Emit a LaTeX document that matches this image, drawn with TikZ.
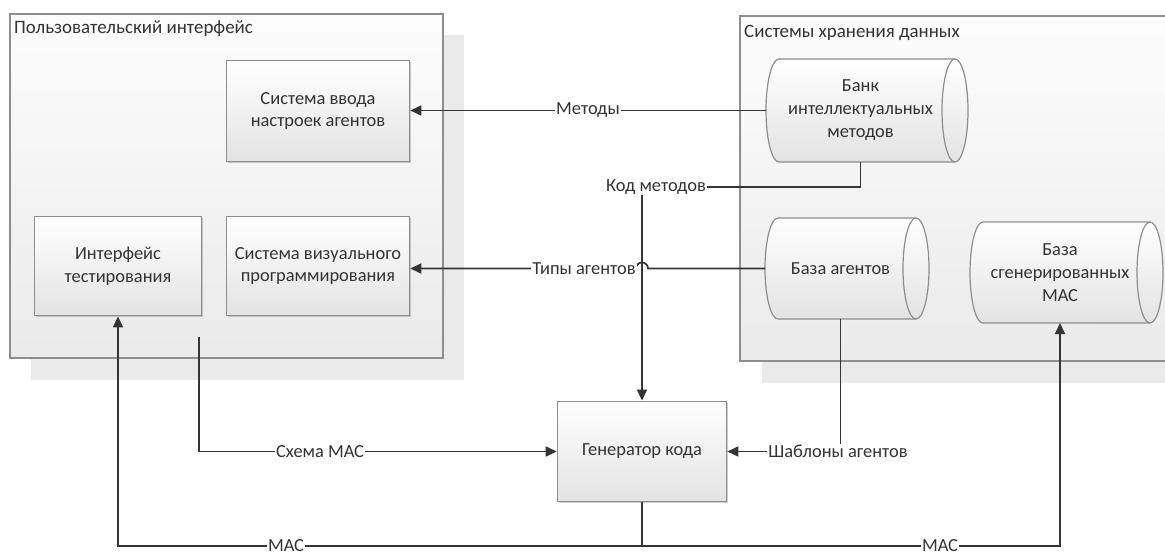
\documentclass[tikz,border=0pt]{standalone}
\usepackage{fontspec}
\setmainfont{Carlito}
\usetikzlibrary{arrows.meta,shadows,calc}
\definecolor{ln}{HTML}{353535}
\definecolor{tx}{HTML}{333333}
\definecolor{bd}{HTML}{8E8E8E}
\definecolor{shd}{HTML}{EAEAEA}
\pgfdeclarelayer{back}
\pgfdeclarelayer{mid}
\pgfsetlayers{back,mid,main}
\newcommand\cylinderAt[5]{%
  \path[cylshape] ({#1+13},#2) -- (#3,#2) arc[start angle=90,end angle=-90,x radius=13bp,y radius=#5bp]
     -- ({#1+13},#4) arc[start angle=270,end angle=90,x radius=13bp,y radius=#5bp] -- cycle;
  \draw[draw=bd,line width=1.2bp] (#3,#2) arc[start angle=90,end angle=270,x radius=13bp,y radius=#5bp];}
\tikzset{
  txtfont/.style={font=\fontsize{18.5}{23}\selectfont},
  box/.style={rectangle, draw=bd, line width=1.2bp, top color=white, bottom color=black!11,
    text=tx, align=center, txtfont, inner sep=0,
    drop shadow={shadow xshift=1.5bp, shadow yshift=-1.5bp, fill=black!45, opacity=0.45}},
  cyltext/.style={rectangle, inner sep=0, text=tx, align=center, txtfont},
  cylshape/.style={draw=bd, line width=1.2bp, top color=white, bottom color=black!11},
  conn/.style={draw=ln, line width=1.7bp},
  arr/.style={conn, -{Triangle[length=11bp,width=10bp]}},
  lbl/.style={fill=white, inner sep=1bp, text=tx, font=\fontsize{18.5}{20}\selectfont},
  cont/.style={draw=bd, line width=1.2bp, top color=black!1, bottom color=black!8},
  contshadow/.style={fill=shd, draw=none},
  ctitle/.style={anchor=west, text=tx, inner sep=0, font=\fontsize{19}{23}\selectfont}
}
\begin{document}
\begin{tikzpicture}[x=1bp,y=-1bp]
\useasboundingbox (0,0) rectangle (1165,556);
\clip (0,0) rectangle (1165,556);
% containers
\begin{pgfonlayer}{back}
  \fill[white] (0,0) rectangle (1165,556);
  \path[contshadow] (31,35) rectangle (464,380);
  \path[cont] (10,14) rectangle (443,358);
  \path[contshadow] (762,38) rectangle (1180,383);
  \path[cont] (740,16) rectangle (1180,361);
\end{pgfonlayer}
\node[ctitle] (t1) at (14,29) {Пользовательский интерфейс};
\node[ctitle] (t2) at (744,33) {Системы хранения данных};
% boxes
\node[box, minimum width=184, minimum height=102] (vvod) at (318,111) {Система ввода\\настроек агентов};
\node[box, minimum width=168, minimum height=100] (ti) at (118,266) {Интерфейс\\тестирования};
\node[box, minimum width=184, minimum height=100] (vis) at (318,266) {Система визуального\\программирования};
\node[box, minimum width=170, minimum height=101] (gen) at (642,451.5) {Генератор кода};
% cylinders
\begin{pgfonlayer}{mid}
  \cylinderAt{766}{59}{955}{162}{51.5}
  \cylinderAt{765}{218}{916}{319}{50.5}
  \cylinderAt{970}{222}{1150}{323}{50.5}
\end{pgfonlayer}
\node[cyltext, minimum width=189, minimum height=103] (bank) at (860.5,110.5) {Банк\\интеллектуальных\\методов};
\node[cyltext, minimum width=151, minimum height=101] (agents) at (840.5,268.5) {База агентов};
\node[cyltext, minimum width=180, minimum height=101] (gmas) at (1060,272.5) {База\\сгенерированных\\МАС};
% connectors
\draw[arr] (bank.west) -- (bank.west -| vvod.east);
\node[lbl] (lm) at (588,110.5) {Методы};
\coordinate (kod) at (642,187);
\draw[conn] (bank.south) |- (kod);
\draw[arr] (kod) -- (gen.north);
\node[lbl] (lk) at (656,187) {Код методов};
\coordinate (hopR) at (648,268.5);
\draw[arr] (agents.west) -- (hopR) arc[start angle=0,end angle=180,radius=6bp] -- (agents.west -| vis.east);
\node[lbl] (lt) at (584,268.5) {Типы агентов};
\coordinate (sch) at (199,337);
\draw[arr] (sch) |- (gen.west);
\node[lbl] (ls) at (320,451.5) {Схема МАС};
\draw[arr] (agents.south) |- (gen.east);
\node[lbl] (lsh) at (838,451.5) {Шаблоны агентов};
\coordinate (macB) at (642,546);
\draw[conn] (gen.south) -- (macB);
\draw[arr] (macB) -| (ti.south);
\draw[arr] (macB) -| (gmas.south);
\node[lbl] (lmac1) at (286,546) {МАС};
\node[lbl] (lmac2) at (940,546) {МАС};
\end{tikzpicture}
\end{document}
